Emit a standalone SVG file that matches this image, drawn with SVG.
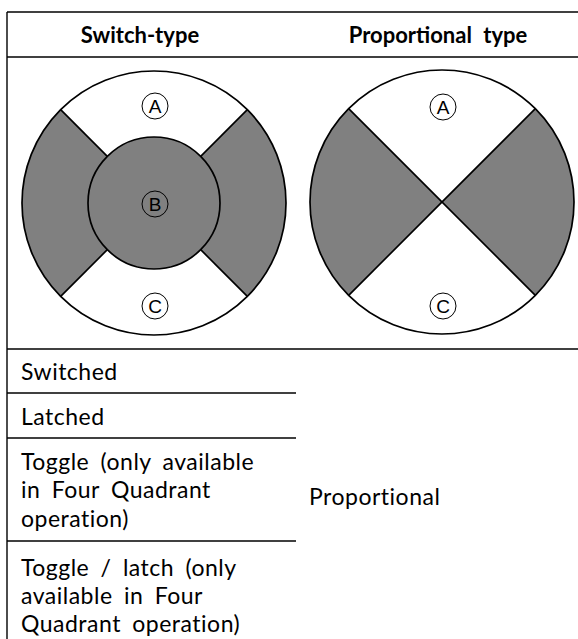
<svg xmlns="http://www.w3.org/2000/svg" width="578" height="639" viewBox="0 0 578 639">
<style>
.tl{stroke:#000;stroke-width:1.4;fill:none}
.ol{stroke:#000;stroke-width:1.7;fill:none}
.g{fill:#808080}
.hd{font-family:Lato,"Open Sans",sans-serif;font-weight:bold;font-size:22px;fill:#000;text-anchor:middle}
.bd{font-family:Lato,"Open Sans",sans-serif;font-size:23px;fill:#000;letter-spacing:0.5px;word-spacing:5px}
.lc{fill:none;stroke:#000;stroke-width:1}
.lt{font-family:"Liberation Sans",Arial,sans-serif;font-size:19px;fill:#000;text-anchor:middle}
</style>
<rect width="578" height="639" fill="#fff"/>
<g id="table">
<line class="tl" x1="7" y1="12" x2="578" y2="12"/>
<line class="tl" x1="7" y1="12" x2="7" y2="639"/>
<line class="tl" x1="7" y1="57" x2="578" y2="57"/>
<line class="tl" x1="7" y1="349" x2="578" y2="349"/>
<line class="tl" x1="7" y1="393" x2="296" y2="393"/>
<line class="tl" x1="7" y1="438" x2="296" y2="438"/>
<line class="tl" x1="7" y1="541" x2="296" y2="541"/>
</g>
<g id="headers">
<text class="hd" x="140" y="43">Switch-type</text>
<text class="hd" x="438" y="43" word-spacing="6">Proportional type</text>
</g>
<g id="switch-circle">
<circle cx="154" cy="203" r="132" fill="#fff"/>
<path class="g" d="M154,203 L60.66,109.66 A132,132 0 0 0 60.66,296.34 Z"/>
<path class="g" d="M154,203 L247.34,109.66 A132,132 0 0 1 247.34,296.34 Z"/>
<line class="ol" x1="107.33" y1="156.33" x2="60.66" y2="109.66"/>
<line class="ol" x1="200.67" y1="156.33" x2="247.34" y2="109.66"/>
<line class="ol" x1="107.33" y1="249.67" x2="60.66" y2="296.34"/>
<line class="ol" x1="200.67" y1="249.67" x2="247.34" y2="296.34"/>
<circle cx="154" cy="203" r="66" fill="#808080" stroke="#000" stroke-width="1.7"/>
<circle class="ol" cx="154" cy="203" r="132"/>
<circle class="lc" cx="155" cy="106" r="13"/>
<text class="lt" x="155" y="113">A</text>
<circle class="lc" cx="155" cy="204" r="13"/>
<text class="lt" x="155" y="211">B</text>
<circle class="lc" cx="155" cy="306" r="13"/>
<text class="lt" x="155" y="313">C</text>
</g>
<g id="proportional-circle">
<circle cx="442" cy="202" r="132" fill="#fff"/>
<path class="g" d="M442,202 L348.66,108.66 A132,132 0 0 0 348.66,295.34 Z"/>
<path class="g" d="M442,202 L535.34,108.66 A132,132 0 0 1 535.34,295.34 Z"/>
<line class="ol" x1="348.66" y1="108.66" x2="535.34" y2="295.34"/>
<line class="ol" x1="535.34" y1="108.66" x2="348.66" y2="295.34"/>
<circle class="ol" cx="442" cy="202" r="132"/>
<circle class="lc" cx="443" cy="107" r="13"/>
<text class="lt" x="443" y="114">A</text>
<circle class="lc" cx="443" cy="306" r="13"/>
<text class="lt" x="443" y="313">C</text>
</g>
<g id="rows">
<text class="bd" x="21" y="380">Switched</text>
<text class="bd" x="21" y="425">Latched</text>
<text class="bd" x="21" y="470">Toggle (only available</text>
<text class="bd" x="21" y="498">in Four Quadrant</text>
<text class="bd" x="21" y="527">operation)</text>
<text class="bd" x="21" y="576">Toggle / latch (only</text>
<text class="bd" x="21" y="604">available in Four</text>
<text class="bd" x="21" y="632">Quadrant operation)</text>
<text class="bd" x="309" y="505">Proportional</text>
</g>
</svg>
